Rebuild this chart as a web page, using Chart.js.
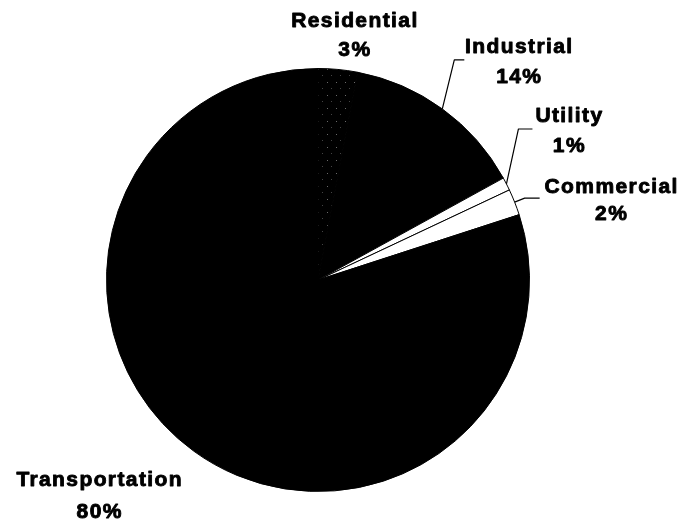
<!DOCTYPE html>
<html>
<head>
<meta charset="utf-8">
<script src="https://cdn.jsdelivr.net/npm/chart.js@4"></script>
<style>
  body { margin: 0; background: #fff; }
  canvas { display: block; }
</style>
</head>
<body>
<canvas id="myPieChart" width="691" height="524"></canvas>
<script>
// values
var sectors = ['Residential', 'Industrial', 'Utility', 'Commercial', 'Transportation'];
var shares = [3, 14, 1, 2, 80];

// speckled black fill for the residential slice
function speckle() {
    var c = document.createElement('canvas');
    c.width = 9;
    c.height = 13;
    var g = c.getContext('2d');
    g.fillStyle = '#000';
    g.fillRect(0, 0, 9, 13);
    g.fillStyle = '#6a6a6a';
    g.fillRect(3, 4, 1, 1);
    g.fillStyle = '#444';
    g.fillRect(7, 10, 1, 1);
    return document.getElementById('myPieChart').getContext('2d').createPattern(c, 'repeat');
}

var fills = [speckle(), '#000', '#fff', '#fff', '#000'];

// label placement: leader = [dx, dy, run] from the slice edge, text = offsets from the end of the leader
var labelLayout = [
    { leader: null, text: [17, -42, -13] },
    { leader: [12, -49, 10], text: [55, -7, 23] },
    { leader: [12, -55, 14], text: [37, -7, 23] },
    { leader: [10, -4, 15], text: [72, -5, 22] },
    { leader: null, text: [-94, 35, 67] }
];

var labelPlugin = {
    id: 'sectorLabels',
    afterDraw: function(chart) {
        var ctx = chart.ctx;
        var meta = chart.getDatasetMeta(0);
        ctx.save();
        ctx.fillStyle = '#000';
        ctx.font = 'bold 21px "Liberation Sans", Arial, sans-serif';
        ctx.letterSpacing = '1.4px';
        ctx.textAlign = 'center';
        ctx.textBaseline = 'alphabetic';
        ctx.lineJoin = 'round';
        meta.data.forEach(function(arc, i) {
            var mid = (arc.startAngle + arc.endAngle) / 2;
            var x = arc.x + arc.outerRadius * Math.cos(mid);
            var y = arc.y + arc.outerRadius * Math.sin(mid);
            var lay = labelLayout[i];
            if (lay.leader) {
                var ex = x + lay.leader[0];
                var ey = y + lay.leader[1];
                ctx.lineWidth = 1.2;
                ctx.beginPath();
                ctx.moveTo(x, y);
                ctx.lineTo(ex, ey);
                ctx.lineTo(ex + lay.leader[2], ey);
                ctx.stroke();
                x = ex + lay.leader[2];
                y = ey;
            }
            // thin outline makes the type as heavy as the scan
            ctx.lineWidth = 0.9;
            ctx.fillText(sectors[i], x + lay.text[0], y + lay.text[1]);
            ctx.strokeText(sectors[i], x + lay.text[0], y + lay.text[1]);
            ctx.fillText(shares[i] + '%', x + lay.text[0], y + lay.text[2]);
            ctx.strokeText(shares[i] + '%', x + lay.text[0], y + lay.text[2]);
        });
        ctx.restore();
    }
};

var ctx = document.getElementById('myPieChart').getContext('2d');

var myPieChart = new Chart(ctx, {
    type: 'pie',
    data: {
        labels: sectors,
        datasets: [{
            data: shares,
            backgroundColor: fills,
            borderColor: '#000',
            borderWidth: 1
        }]
    },
    options: {
        responsive: false,
        animation: false,
        layout: {
            padding: { top: 68, bottom: 32, left: 98, right: 153 }
        },
        plugins: {
            legend: { display: false },
            tooltip: { enabled: false }
        }
    },
    plugins: [labelPlugin]
});
</script>
</body>
</html>
